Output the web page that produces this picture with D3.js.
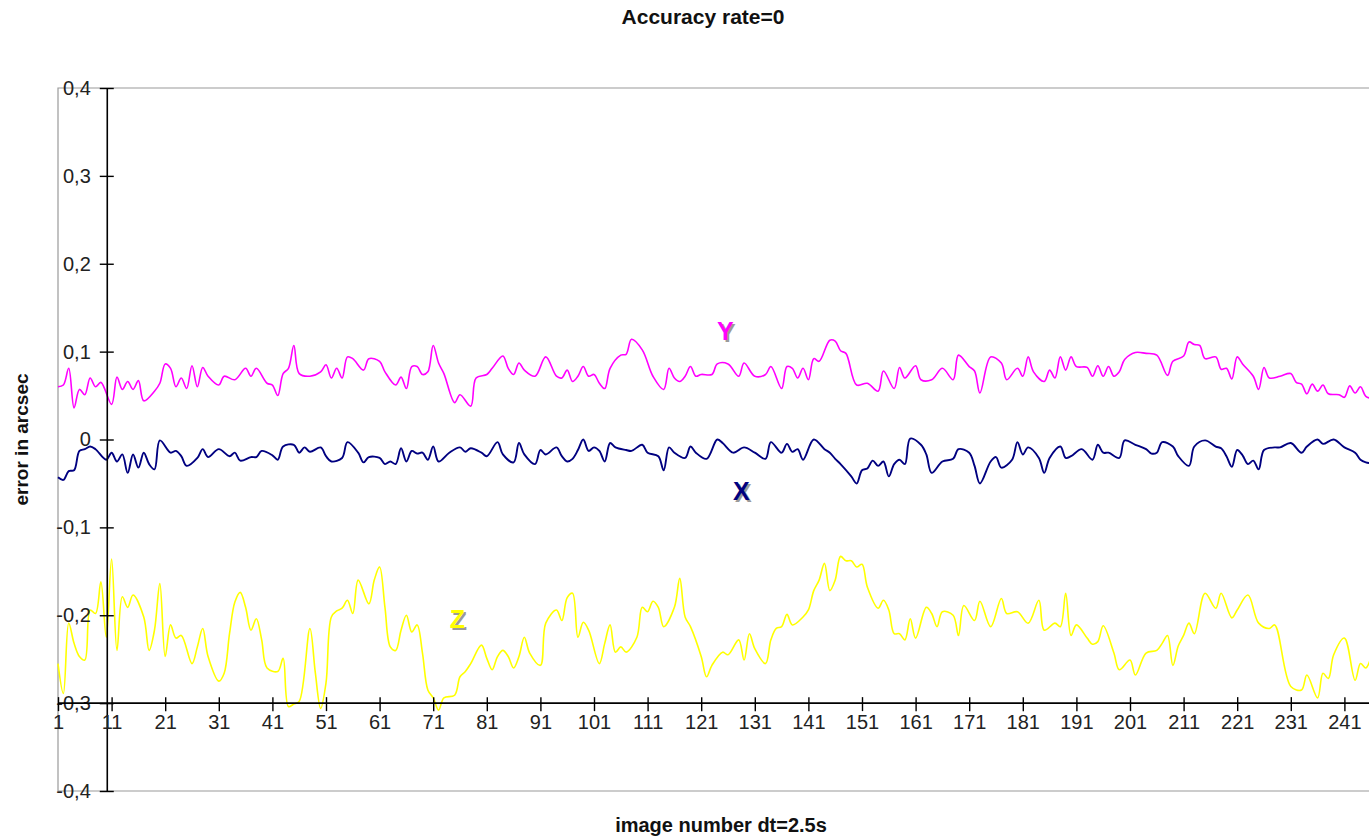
<!DOCTYPE html>
<html>
<head>
<meta charset="utf-8">
<script src="https://cdn.jsdelivr.net/npm/d3@7"></script>
<style>
  html, body { margin: 0; padding: 0; background: #fff; }
  svg { display: block; }
  text { font-family: "Liberation Sans", Arial, sans-serif; }
</style>
</head>
<body>
<svg id="chart" width="1369" height="839"></svg>
<script>
// ---------------- data ----------------
const chartTitle = "Accuracy rate=0";
const xTitle = "image number dt=2.5s";
const yTitle = "error in arcsec";

const xTickValues = [1, 11, 21, 31, 41, 51, 61, 71, 81, 91, 101, 111, 121, 131, 141, 151, 161, 171, 181, 191, 201, 211, 221, 231, 241];
const yTickValues = [-0.4, -0.3, -0.2, -0.1, 0, 0.1, 0.2, 0.3, 0.4];
const yTickLabels = ["-0,4", "-0,3", "-0,2", "-0,1", "0", "0,1", "0,2", "0,3", "0,4"];

// [image number, error] pairs
const seriesY = [
[1,0.060],[2,0.062],[3,0.081],[4,0.036],[5,0.057],[6,0.051],[7,0.070],[8,0.060],[9,0.065],[11,0.040],[12,0.071],[13,0.057],[14,0.066],[15,0.057],[16,0.067],[17,0.044],[19,0.055],[20,0.064],[21,0.086],[22,0.081],[23,0.060],[24,0.070],[25,0.058],[26,0.084],[27,0.060],[28,0.082],[29,0.072],[31,0.062],[32,0.072],[34,0.068],[36,0.081],[37,0.072],[38,0.081],[40,0.064],[41,0.062],[42,0.050],[43,0.075],[44,0.081],[45,0.107],[46,0.075],[48,0.072],[50,0.077],[51,0.085],[52,0.070],[53,0.081],[54,0.070],[55,0.094],[56,0.092],[58,0.079],[59,0.092],[61,0.089],[62,0.077],[64,0.062],[65,0.071],[66,0.058],[67,0.083],[68,0.083],[69,0.074],[70,0.077],[71,0.107],[72,0.087],[73,0.075],[75,0.042],[76,0.051],[78,0.038],[79,0.070],[81,0.074],[82,0.081],[84,0.095],[85,0.081],[86,0.074],[87,0.087],[88,0.079],[90,0.072],[92,0.094],[94,0.072],[95,0.070],[96,0.079],[97,0.066],[98,0.072],[99,0.083],[100,0.072],[101,0.074],[102,0.064],[103,0.058],[104,0.081],[106,0.096],[107,0.097],[108,0.114],[110,0.102],[112,0.072],[114,0.057],[115,0.081],[116,0.070],[117,0.066],[118,0.072],[119,0.083],[120,0.072],[121,0.074],[123,0.074],[124,0.086],[126,0.086],[128,0.072],[129,0.087],[131,0.072],[133,0.074],[134,0.083],[136,0.058],[137,0.083],[138,0.081],[139,0.070],[140,0.081],[141,0.068],[142,0.092],[143,0.089],[145,0.113],[146,0.112],[147,0.101],[148,0.098],[150,0.062],[152,0.064],[154,0.055],[155,0.078],[157,0.058],[158,0.082],[159,0.070],[161,0.084],[162,0.068],[164,0.068],[166,0.081],[168,0.068],[169,0.096],[171,0.083],[172,0.078],[173,0.053],[175,0.094],[177,0.087],[178,0.068],[180,0.081],[181,0.072],[182,0.094],[183,0.077],[185,0.066],[186,0.079],[187,0.070],[188,0.094],[189,0.079],[190,0.094],[191,0.083],[193,0.082],[194,0.072],[195,0.084],[196,0.072],[197,0.083],[198,0.072],[199,0.077],[200,0.091],[202,0.099],[204,0.098],[206,0.096],[208,0.073],[209,0.089],[211,0.095],[212,0.111],[213,0.108],[214,0.107],[215,0.092],[217,0.094],[218,0.080],[219,0.081],[220,0.069],[221,0.094],[222,0.086],[224,0.072],[225,0.057],[226,0.082],[227,0.070],[229,0.072],[231,0.075],[232,0.065],[233,0.063],[234,0.052],[235,0.063],[236,0.055],[237,0.062],[238,0.052],[240,0.051],[241,0.048],[242,0.061],[243,0.053],[244,0.060],[245,0.049],[246,0.047]
];

const seriesX = [
[1,-0.043],[2,-0.046],[3,-0.036],[4,-0.035],[5,-0.013],[6,-0.011],[7,-0.008],[8,-0.011],[10,-0.023],[11,-0.015],[12,-0.025],[13,-0.017],[14,-0.038],[15,-0.017],[16,-0.032],[17,-0.015],[18,-0.028],[19,-0.034],[20,-0.001],[22,-0.015],[23,-0.013],[24,-0.019],[25,-0.030],[27,-0.021],[28,-0.011],[29,-0.020],[31,-0.011],[33,-0.019],[34,-0.015],[35,-0.024],[37,-0.020],[38,-0.020],[39,-0.013],[41,-0.018],[42,-0.023],[43,-0.008],[45,-0.006],[46,-0.015],[47,-0.009],[48,-0.014],[50,-0.009],[51,-0.019],[52,-0.025],[54,-0.021],[55,-0.003],[57,-0.015],[58,-0.026],[59,-0.020],[61,-0.021],[62,-0.028],[63,-0.025],[64,-0.028],[65,-0.010],[66,-0.025],[67,-0.013],[68,-0.016],[69,-0.015],[70,-0.023],[71,-0.008],[72,-0.025],[74,-0.015],[76,-0.009],[77,-0.014],[78,-0.010],[80,-0.015],[81,-0.019],[83,-0.003],[84,-0.017],[86,-0.026],[87,-0.004],[88,-0.017],[90,-0.028],[91,-0.012],[92,-0.017],[94,-0.009],[95,-0.019],[96,-0.025],[97,-0.022],[98,-0.012],[99,0.000],[100,-0.013],[101,-0.009],[102,-0.013],[103,-0.025],[104,-0.004],[105,-0.009],[107,-0.012],[108,-0.013],[110,-0.006],[111,-0.015],[113,-0.019],[114,-0.035],[115,-0.009],[116,-0.015],[118,-0.021],[119,-0.008],[120,-0.015],[122,-0.022],[124,0.000],[125,-0.004],[127,-0.015],[129,-0.009],[131,-0.015],[133,-0.022],[134,-0.003],[136,-0.015],[137,-0.005],[138,-0.014],[139,-0.011],[140,-0.023],[142,0.000],[144,-0.011],[145,-0.015],[146,-0.022],[147,-0.028],[149,-0.042],[150,-0.050],[151,-0.035],[152,-0.033],[153,-0.024],[154,-0.030],[155,-0.025],[156,-0.042],[157,-0.028],[158,-0.023],[159,-0.028],[160,0.001],[162,-0.006],[163,-0.017],[164,-0.038],[166,-0.025],[168,-0.022],[169,-0.011],[171,-0.015],[172,-0.030],[173,-0.050],[175,-0.025],[176,-0.020],[177,-0.032],[179,-0.023],[180,-0.003],[181,-0.017],[182,-0.009],[184,-0.021],[185,-0.038],[186,-0.021],[188,-0.008],[189,-0.021],[190,-0.019],[192,-0.011],[194,-0.023],[195,-0.006],[196,-0.015],[197,-0.015],[199,-0.021],[200,-0.001],[202,-0.006],[204,-0.011],[205,-0.016],[206,-0.015],[207,-0.003],[209,-0.008],[210,-0.019],[212,-0.030],[213,-0.008],[215,-0.001],[217,-0.008],[218,-0.010],[219,-0.019],[220,-0.031],[221,-0.012],[222,-0.018],[223,-0.028],[224,-0.024],[225,-0.034],[226,-0.012],[228,-0.009],[229,-0.009],[231,-0.004],[233,-0.015],[234,-0.008],[236,0.000],[237,-0.005],[239,0.000],[241,-0.009],[243,-0.015],[244,-0.023],[245,-0.026],[246,-0.027]
];

const seriesZ = [
[1,-0.255],[2,-0.289],[3,-0.209],[4,-0.232],[5,-0.247],[6,-0.251],[7,-0.194],[8,-0.198],[9,-0.162],[10,-0.225],[11,-0.136],[12,-0.240],[13,-0.179],[14,-0.191],[15,-0.177],[17,-0.202],[18,-0.240],[19,-0.217],[20,-0.164],[21,-0.247],[22,-0.211],[23,-0.226],[24,-0.223],[26,-0.255],[27,-0.236],[28,-0.215],[29,-0.247],[31,-0.275],[32,-0.266],[33,-0.221],[34,-0.185],[35,-0.174],[36,-0.191],[37,-0.217],[38,-0.204],[39,-0.228],[40,-0.260],[42,-0.264],[43,-0.249],[44,-0.304],[45,-0.301],[46,-0.298],[48,-0.215],[49,-0.265],[50,-0.306],[51,-0.277],[52,-0.202],[53,-0.195],[54,-0.192],[55,-0.183],[56,-0.198],[57,-0.160],[59,-0.187],[60,-0.160],[61,-0.145],[62,-0.191],[63,-0.236],[64,-0.240],[65,-0.217],[66,-0.200],[67,-0.219],[68,-0.211],[69,-0.243],[70,-0.285],[71,-0.294],[72,-0.308],[73,-0.294],[75,-0.291],[76,-0.270],[77,-0.264],[78,-0.255],[80,-0.234],[81,-0.249],[82,-0.262],[83,-0.247],[84,-0.240],[85,-0.247],[86,-0.260],[87,-0.247],[88,-0.225],[89,-0.243],[91,-0.257],[92,-0.209],[94,-0.194],[95,-0.206],[96,-0.180],[97,-0.175],[98,-0.225],[99,-0.208],[100,-0.217],[102,-0.255],[103,-0.232],[104,-0.211],[105,-0.242],[106,-0.236],[107,-0.242],[109,-0.225],[110,-0.191],[111,-0.196],[112,-0.184],[113,-0.191],[114,-0.213],[116,-0.191],[117,-0.158],[118,-0.202],[119,-0.213],[121,-0.247],[122,-0.270],[123,-0.257],[125,-0.242],[126,-0.245],[128,-0.228],[129,-0.251],[130,-0.221],[131,-0.238],[133,-0.255],[134,-0.228],[135,-0.215],[136,-0.213],[137,-0.199],[138,-0.211],[140,-0.202],[141,-0.194],[142,-0.172],[143,-0.160],[144,-0.141],[145,-0.172],[146,-0.160],[147,-0.133],[148,-0.138],[149,-0.138],[150,-0.145],[151,-0.142],[152,-0.168],[154,-0.192],[155,-0.183],[156,-0.194],[157,-0.221],[158,-0.221],[159,-0.228],[160,-0.204],[161,-0.226],[163,-0.191],[164,-0.198],[165,-0.213],[166,-0.196],[168,-0.200],[169,-0.223],[170,-0.189],[172,-0.206],[173,-0.184],[175,-0.213],[177,-0.181],[178,-0.198],[180,-0.196],[182,-0.209],[184,-0.183],[185,-0.217],[187,-0.209],[188,-0.213],[189,-0.175],[190,-0.223],[191,-0.211],[193,-0.226],[194,-0.233],[195,-0.230],[196,-0.212],[198,-0.243],[199,-0.262],[201,-0.251],[202,-0.268],[204,-0.243],[206,-0.240],[207,-0.232],[208,-0.223],[209,-0.257],[210,-0.235],[211,-0.223],[212,-0.209],[213,-0.221],[215,-0.175],[217,-0.192],[218,-0.175],[220,-0.203],[221,-0.194],[223,-0.177],[225,-0.209],[227,-0.215],[228,-0.211],[231,-0.281],[233,-0.285],[234,-0.268],[236,-0.294],[237,-0.266],[238,-0.272],[239,-0.245],[241,-0.226],[243,-0.274],[244,-0.255],[245,-0.260],[246,-0.247]
];

const seriesNames = ["Y", "X", "Z"];
const seriesColors = ["#ff00ff", "#000080", "#ffff00"];
// label anchor positions in data units [image number, error]
const seriesLabelPos = [[125.5, 0.113], [128.5, -0.069], [75.5, -0.214]];
const yAxisCrossing = 10.1;   // image number where the vertical axis sits
const xAxisCrossing = -0.3;   // error value where the horizontal axis sits

// ---------------- drawing ----------------
const W = 1369, H = 839;
const frame = { left: 58, top: 88, bottom: 791 };
const svg = d3.select("#chart");
const FONT = "'Liberation Sans', Arial, sans-serif";

const x = d3.scaleLinear().domain([1, 241]).range([58, 1344.4]);
const y = d3.scaleLinear().domain([-0.4, 0.4]).range([frame.bottom, frame.top]);

// gray plot frame
svg.append("path")
  .attr("d", `M${W + 5},${frame.top}H${frame.left}V${frame.bottom}H${W + 5}`)
  .attr("fill", "none").attr("stroke", "#9a9a9a").attr("stroke-width", 1.2);

// titles
svg.append("text").attr("x", 703).attr("y", 24).attr("text-anchor", "middle")
  .attr("font-size", 21).attr("font-weight", "bold").attr("fill", "#111").text(chartTitle);
svg.append("text").attr("x", 721).attr("y", 832).attr("text-anchor", "middle")
  .attr("font-size", 20).attr("font-weight", "bold").attr("fill", "#111").text(xTitle);
svg.append("text").attr("transform", `translate(28,${y(0)}) rotate(-90)`).attr("text-anchor", "middle")
  .attr("font-size", 19).attr("font-weight", "bold").attr("fill", "#111").text(yTitle);

// series lines
const line = d3.line().x(d => x(d[0])).y(d => y(d[1])).curve(d3.curveCatmullRom.alpha(0.5));
const allSeries = [seriesY, seriesX, seriesZ];
const widths = [1.6, 1.9, 1.6];
allSeries.forEach((s, i) => {
  svg.append("path").datum(s).attr("d", line)
    .attr("fill", "none").attr("stroke", seriesColors[i])
    .attr("stroke-width", widths[i]).attr("stroke-linejoin", "round");
});

// y axis
const yAxis = d3.axisLeft(y).tickValues(yTickValues)
  .tickFormat((d, i) => yTickLabels[i]).tickSizeInner(7).tickSizeOuter(0).tickPadding(9);
const gy = svg.append("g").attr("transform", `translate(${x(yAxisCrossing)},0)`).call(yAxis);
gy.select(".domain").attr("stroke", "#000").attr("stroke-width", 1.6);
gy.selectAll(".tick line").attr("x1", -7).attr("x2", 7).attr("stroke", "#000").attr("stroke-width", 1.4);
gy.selectAll(".tick text").attr("font-size", 20).attr("fill", "#222").attr("font-family", FONT);

// x axis
const xAxis = d3.axisBottom(x).tickValues(xTickValues).tickFormat(d3.format("d"))
  .tickSizeInner(7).tickSizeOuter(0).tickPadding(5);
const gx = svg.append("g").attr("transform", `translate(0,${y(xAxisCrossing)})`).call(xAxis);
gx.select(".domain").remove();
gx.append("line").attr("x1", frame.left).attr("x2", W + 5).attr("y1", 0).attr("y2", 0)
  .attr("stroke", "#000").attr("stroke-width", 1.6);
gx.selectAll(".tick line").attr("y1", -6).attr("y2", 8).attr("stroke", "#000").attr("stroke-width", 1.4);
gx.selectAll(".tick text").attr("font-size", 20).attr("fill", "#222").attr("font-family", FONT);

// series labels with shadow
seriesNames.forEach((n, i) => {
  const px = x(seriesLabelPos[i][0]), py = y(seriesLabelPos[i][1]);
  svg.append("text").attr("x", px + 2).attr("y", py + 2).attr("text-anchor", "middle")
    .attr("font-size", 25).attr("font-weight", "bold").attr("fill", "#9a9a9a").text(n);
  svg.append("text").attr("x", px).attr("y", py).attr("text-anchor", "middle")
    .attr("font-size", 25).attr("font-weight", "bold").attr("fill", seriesColors[i]).text(n);
});
</script>
</body>
</html>
